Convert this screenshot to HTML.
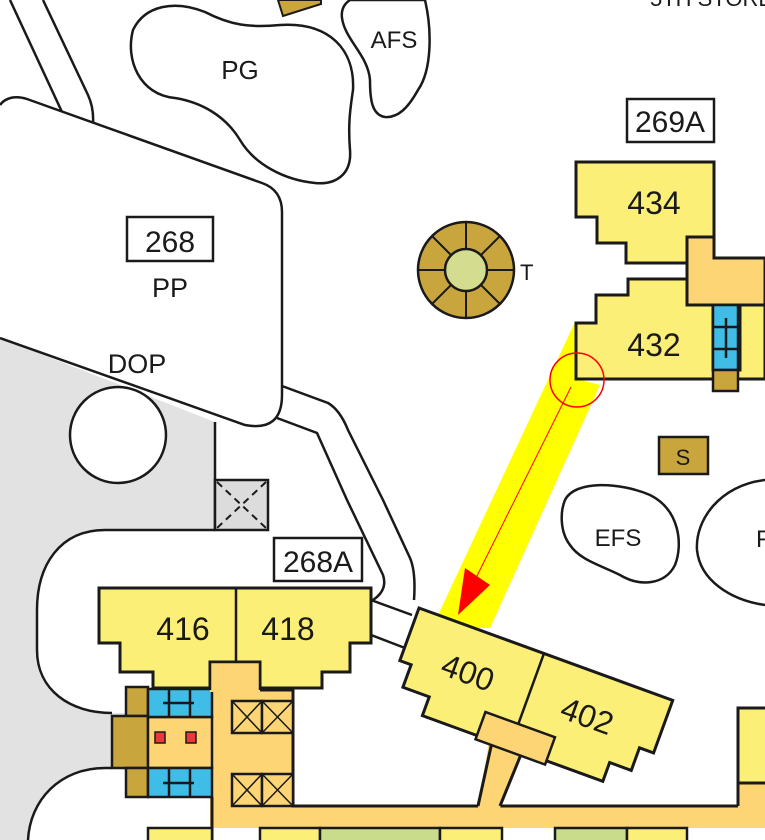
<!DOCTYPE html>
<html><head><meta charset="utf-8"><style>
html,body{margin:0;padding:0;background:#fff;}
svg{display:block;}
text{font-family:"Liberation Sans Narrow","Liberation Sans",sans-serif;fill:#1a1a1a;}
</style></head><body>
<svg width="765" height="840" viewBox="0 0 765 840" xmlns="http://www.w3.org/2000/svg">
<rect width="765" height="840" fill="#fff"/>
<!-- gray ground -->
<polygon points="0,338 215,422 215,840 0,840" fill="#e2e2e2"/>
<path d="M215,530 L105,530 C60,530 37,565 37,610 L37,650 C37,690 70,713 112,713 L215,713 L215,530 Z" fill="#fff"/>
<path d="M215,530 L105,530 C60,530 37,565 37,610 L37,650 C37,690 70,713 112,713" fill="none" stroke="#1a1a1a" stroke-width="2.5"/>
<path d="M215,768 L105,768 C60,768 30,800 28,840 L215,840 Z" fill="#fff"/>
<path d="M112,768 L105,768 C60,768 30,800 28,840" fill="none" stroke="#1a1a1a" stroke-width="2.5"/>
<line x1="215" y1="422" x2="215" y2="530" stroke="#1a1a1a" stroke-width="2.5"/>
<!-- top-left road lines -->
<line x1="10" y1="0" x2="62" y2="112" stroke="#1a1a1a" stroke-width="2.5"/>
<path d="M43,0 L88,95 Q94,108 93,124" fill="none" stroke="#1a1a1a" stroke-width="2.5"/>
<!-- PP shape -->
<path d="M0,105 C5,98 15,95 27,99 L262,183 Q282,190 282,212 L282,395 Q282,432 245,425 L0,338" fill="#fff" stroke="#1a1a1a" stroke-width="2.5"/>
<!-- paths from PP -->
<path d="M282,386 L328,403 Q340,410 348,430 L383,500 L410,558 Q416,572 414,600" fill="none" stroke="#1a1a1a" stroke-width="2.5"/>
<path d="M277,418 L317,433 L347,500 L383,575 Q388,590 373,600" fill="none" stroke="#1a1a1a" stroke-width="2.5"/>
<line x1="371" y1="600" x2="412" y2="615" stroke="#1a1a1a" stroke-width="2.5"/>
<line x1="371" y1="635" x2="405" y2="648" stroke="#1a1a1a" stroke-width="2.5"/>
<!-- DOP circle -->
<circle cx="118" cy="435" r="48" fill="#fff" stroke="#1a1a1a" stroke-width="2.5"/>
<!-- dashed X box -->
<rect x="215" y="480" width="53" height="50" fill="#dcdcdc" stroke="#1a1a1a" stroke-width="2.5"/>
<path d="M217,482 L266,528 M266,482 L217,528" stroke="#1a1a1a" stroke-width="2" stroke-dasharray="7,5"/>
<!-- PG blob -->
<path d="M133,30 C145,5 175,0 205,12 C230,25 250,28 280,25 C330,22 355,50 353,90 C350,110 348,125 350,150 C352,175 335,185 315,183 C285,180 255,165 240,140 C225,115 200,102 175,98 C140,95 125,60 133,30 Z" fill="#fff" stroke="#1a1a1a" stroke-width="2.5"/>
<!-- AFS blob -->
<path d="M350,0 L425,0 C432,30 432,70 418,90 C408,108 398,118 385,117 C372,115 370,100 370,80 C368,55 345,40 342,18 C341,10 344,4 350,0 Z" fill="#fff" stroke="#1a1a1a" stroke-width="2.5"/>
<!-- small brown S top -->
<polygon points="278,0 321,0 321,4 283,16" fill="#c9a53e" stroke="#1a1a1a" stroke-width="2"/>
<!-- T compass -->
<g transform="translate(466,270)">
<circle r="48" fill="#c9a53e" stroke="#1a1a1a" stroke-width="2.5"/>
<g stroke="#1a1a1a" stroke-width="2">
<line x1="0" y1="-48" x2="0" y2="48"/><line x1="-48" y1="0" x2="48" y2="0"/>
<line x1="-34" y1="-34" x2="34" y2="34"/><line x1="-34" y1="34" x2="34" y2="-34"/>
</g>
<circle r="21" fill="#d4dd8f" stroke="#1a1a1a" stroke-width="2.5"/>
</g>
<text x="520" y="280" font-size="22">T</text>
<!-- yellow band -->
<polygon points="575,322 577,379 600,385 490,628 432,628" fill="#ffff00"/>
<!-- 269A label -->
<rect x="627" y="99" width="87" height="43" fill="#fff" stroke="#1a1a1a" stroke-width="2.5"/>
<text x="670" y="132" font-size="30" text-anchor="middle" fill="#000">269A</text>
<text x="650" y="6" font-size="22">5TH STORE</text>
<!-- 434 -->
<polygon points="687,237 714,237 714,258 765,258 765,305 687,305" fill="#fdd575" stroke="#1a1a1a" stroke-width="3"/>
<polygon points="576,162 714,162 714,237 687,237 687,263 626,263 626,243 597,243 597,217 576,217" fill="#fcef77" stroke="#1a1a1a" stroke-width="3"/>
<text x="654" y="214" font-size="32" text-anchor="middle">434</text>
<!-- 432 -->
<polygon points="576,323 596,323 596,295 628,295 628,279 687,279 687,305 713,305 713,370 740,370 740,305 765,305 765,379 576,379" fill="#fcef77" stroke="#1a1a1a" stroke-width="3"/>
<rect x="713" y="305" width="25" height="65" fill="#40bde6" stroke="#1a1a1a" stroke-width="2.5"/>
<path d="M713,327 H738 M713,349 H738 M726,318 V358" stroke="#1a1a1a" stroke-width="2.5"/>
<rect x="713" y="370" width="25" height="21" fill="#c9a53e" stroke="#1a1a1a" stroke-width="2.5"/>
<text x="654" y="356" font-size="32" text-anchor="middle">432</text>
<!-- red circle + arrow -->
<circle cx="577" cy="380" r="27" fill="none" stroke="#f00" stroke-width="1.5"/>
<line x1="571" y1="387" x2="466" y2="598" stroke="#f00" stroke-width="1"/>
<polygon points="458,615 465,568 490,585" fill="#f00"/>
<!-- S box -->
<rect x="659" y="437" width="49" height="37" fill="#c9a53e" stroke="#1a1a1a" stroke-width="2.5"/>
<text x="683" y="465" font-size="22" text-anchor="middle">S</text>
<!-- EFS blob -->
<path d="M565,500 C575,480 620,482 650,495 C680,510 683,545 675,565 C665,585 640,587 620,575 C600,565 580,560 570,545 C560,532 560,512 565,500 Z" fill="#fff" stroke="#1a1a1a" stroke-width="2.5"/>
<text x="618" y="546" font-size="24" text-anchor="middle" fill="#1f3a1a">EFS</text>
<path d="M765,480 C720,485 695,520 697,550 C700,580 730,600 765,605" fill="#fff" stroke="#1a1a1a" stroke-width="2.5"/>
<text x="756" y="547" font-size="24" fill="#1f3a1a">F</text>
<!-- corridor -->
<rect x="210" y="805" width="560" height="23" fill="#fdd575"/>
<polygon points="210,662 260,662 260,690 293,690 293,805 210,805" fill="#fdd575"/>
<polyline points="260,690 293,690 293,806 478,806" fill="none" stroke="#1a1a1a" stroke-width="3"/>
<polyline points="500,806 738,806" fill="none" stroke="#1a1a1a" stroke-width="3"/>
<line x1="212" y1="797" x2="212" y2="840" stroke="#1a1a1a" stroke-width="3"/>
<!-- X boxes -->
<g fill="#fdd575" stroke="#1a1a1a" stroke-width="2.5">
<rect x="232" y="701" width="30" height="32"/><rect x="262" y="701" width="31" height="32"/>
<rect x="232" y="774" width="30" height="32"/><rect x="262" y="774" width="31" height="32"/>
</g>
<path d="M232,701 L262,733 M262,701 L232,733 M262,701 L293,733 M293,701 L262,733 M232,774 L262,806 M262,774 L232,806 M262,774 L293,806 M293,774 L262,806" stroke="#1a1a1a" stroke-width="1.5"/>
<!-- left blue/brown -->
<rect x="126" y="687" width="22" height="29" fill="#c9a53e" stroke="#1a1a1a" stroke-width="2.5"/>
<rect x="112" y="716" width="36" height="52" fill="#c9a53e" stroke="#1a1a1a" stroke-width="2.5"/>
<rect x="126" y="768" width="22" height="29" fill="#c9a53e" stroke="#1a1a1a" stroke-width="2.5"/>
<rect x="148" y="717" width="64" height="51" fill="#fdd575" stroke="#1a1a1a" stroke-width="2.5"/>
<rect x="155" y="732" width="10" height="11" fill="#e83a3a" stroke="#1a1a1a" stroke-width="1.5"/>
<rect x="186" y="732" width="10" height="11" fill="#e83a3a" stroke="#1a1a1a" stroke-width="1.5"/>
<rect x="148" y="689" width="64" height="28" fill="#40bde6" stroke="#1a1a1a" stroke-width="2.5"/>
<rect x="148" y="768" width="64" height="29" fill="#40bde6" stroke="#1a1a1a" stroke-width="2.5"/>
<path d="M169,689 V717 M190,689 V717 M163,703 H194 M169,768 V797 M190,768 V797 M163,783 H194" stroke="#1a1a1a" stroke-width="2.5"/>
<!-- 416/418 -->
<polygon points="99,588 371,588 371,643 350,643 350,672 322,672 322,688 260,688 260,662 210,662 210,688 153,688 153,672 120,672 120,643 99,643" fill="#fcef77" stroke="#1a1a1a" stroke-width="3"/>
<rect x="210" y="662" width="50" height="30" fill="#fdd575"/>
<polyline points="210,690 210,662 260,662 260,690" fill="none" stroke="#1a1a1a" stroke-width="2.5"/>
<line x1="236" y1="588" x2="236" y2="662" stroke="#1a1a1a" stroke-width="2.5"/>
<text x="183" y="640" font-size="32" text-anchor="middle">416</text>
<text x="288" y="640" font-size="32" text-anchor="middle">418</text>
<rect x="274" y="538" width="88" height="43" fill="#fff" stroke="#1a1a1a" stroke-width="2.5"/>
<text x="318" y="572" font-size="30" text-anchor="middle" fill="#000">268A</text>
<!-- 400/402 -->
<polygon points="490,735 525,745 500,808 478,808" fill="#fdd575"/>
<path d="M492,742 L478,806 M522,752 L500,806" stroke="#1a1a1a" stroke-width="3"/>
<g transform="translate(419,608) rotate(20)">
<polygon points="0,0 270,0 270,56 255,56 255,80 232,80 232,100 40,100 40,80 12,80 12,56 0,56" fill="#fcef77" stroke="#1a1a1a" stroke-width="3"/>
<polygon points="98,75 172,75 172,104 98,104" fill="#fdd575" stroke="#1a1a1a" stroke-width="2.5"/>
<line x1="133" y1="0" x2="133" y2="75" stroke="#1a1a1a" stroke-width="2.5"/>
<text x="68" y="55" font-size="32" text-anchor="middle">400</text>
<text x="195" y="55" font-size="32" text-anchor="middle">402</text>
</g>
<!-- right edge building -->
<rect x="738" y="783" width="30" height="24" fill="#fdd575"/>
<rect x="738" y="708" width="30" height="75" fill="#fcef77" stroke="#1a1a1a" stroke-width="3"/>
<line x1="738" y1="783" x2="738" y2="806" stroke="#1a1a1a" stroke-width="3"/>
<!-- bottom row -->
<g stroke="#1a1a1a" stroke-width="2.5">
<rect x="148" y="828" width="64" height="15" fill="#fcef77"/>
<rect x="260" y="828" width="60" height="15" fill="#fcef77"/>
<rect x="320" y="828" width="120" height="15" fill="#c8dc8c"/>
<rect x="440" y="828" width="62" height="15" fill="#fcef77"/>
<rect x="555" y="828" width="72" height="15" fill="#c8dc8c"/>
<rect x="627" y="828" width="60" height="15" fill="#fcef77"/>
</g>
<!-- labels -->
<rect x="127" y="217" width="86" height="44" fill="#fff" stroke="#1a1a1a" stroke-width="2.5"/>
<text x="170" y="252" font-size="30" text-anchor="middle" fill="#000">268</text>
<text x="170" y="297" font-size="27" text-anchor="middle">PP</text>
<text x="137" y="373" font-size="27" text-anchor="middle">DOP</text>
<text x="240" y="79" font-size="26" text-anchor="middle">PG</text>
<text x="394" y="48" font-size="24" text-anchor="middle" fill="#1f3a1a">AFS</text>
</svg>
</body></html>
